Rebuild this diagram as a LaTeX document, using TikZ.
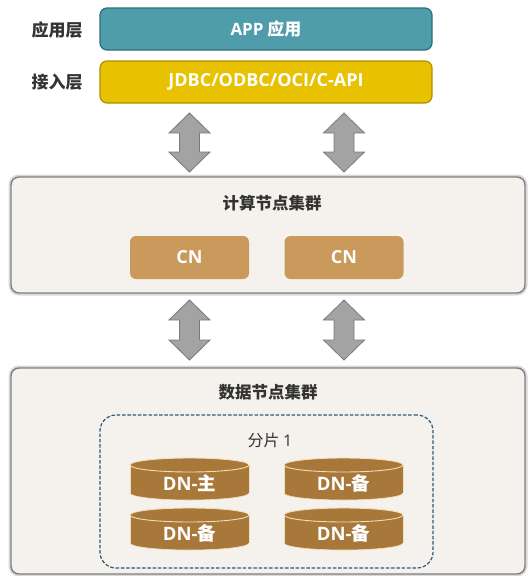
\documentclass[tikz,border=0pt]{standalone}
\usepackage{fontspec}
\setmainfont{Noto Sans CJK SC}
\newfontfamily\lat{Open Sans}
\definecolor{tealbox}{HTML}{4F9CAA}
\definecolor{tealedge}{HTML}{2F6F7C}
\definecolor{goldbox}{HTML}{E8C200}
\definecolor{goldedge}{HTML}{B08F00}
\definecolor{panelfill}{HTML}{F5F2ED}
\definecolor{paneledge}{HTML}{7F7F7F}
\definecolor{cnfill}{HTML}{C99A5B}
\definecolor{dnfill}{HTML}{A8783A}
\definecolor{dnedge}{HTML}{F3DDB5}
\definecolor{arrfill}{HTML}{A3A3A3}
\definecolor{arredge}{HTML}{7A7A7A}
\definecolor{shardblue}{HTML}{2A5A80}
\definecolor{txtdark}{HTML}{333333}
\tikzset{
  layerbox/.style={rounded corners=7pt, minimum width=332pt, minimum height=42pt, inner sep=0pt, line width=1.2pt, text=white, font=\fontsize{17}{19}\selectfont\bfseries},
  sidelabel/.style={text=txtdark, font=\fontsize{17}{19}\selectfont\bfseries, inner sep=0pt},
  panelbox/.style={rounded corners=8pt, fill=panelfill, draw=paneledge, line width=1.4pt, inner sep=0pt, minimum width=514pt},
  panelglow/.style={rounded corners=8pt, draw=black, line width=5pt, opacity=0.15},
  paneltitle/.style={text=txtdark, font=\fontsize{16.5}{18}\selectfont\bfseries, inner sep=0pt},
  cnbox/.style={rounded corners=6pt, fill=cnfill, minimum width=119pt, minimum height=43pt, inner sep=0pt, text=white, font=\lat\fontsize{18}{20}\selectfont\bfseries},
  shardbox/.style={rounded corners=16pt, draw=shardblue, line width=1.2pt, dash pattern=on 3.5pt off 1.8pt, minimum width=333pt, minimum height=153pt, inner sep=0pt},
  arr/.style={fill=arrfill, draw=arredge, line width=0.8pt, line join=miter},
  dntext/.style={text=white, font=\fontsize{18.5}{20}\selectfont\bfseries, inner sep=0pt},
}
\newcommand\udarrow[3]{%
  \filldraw[arr] (#1,#2) -- (#1+20.5,#2+20) -- (#1+10,#2+20) -- (#1+10,#3-20) -- (#1+20.5,#3-20) -- (#1,#3) -- (#1-20.5,#3-20) -- (#1-10,#3-20) -- (#1-10,#2+20) -- (#1-20.5,#2+20) -- cycle;}
\newcommand\dncyl[4]{% name, cx, cy, text
  \fill[dnfill] (#2-59.5,#3-14) rectangle (#2+59.5,#3+14);
  \filldraw[fill=dnfill, draw=dnedge, line width=0.6pt] (#2,#3+14) ellipse [x radius=59.5, y radius=7];
  \fill[dnfill] (#2-59.5,#3-14) rectangle (#2+59.5,#3+14);
  \draw[dnedge, line width=0.8pt] (#2-59.5,#3-14) -- (#2-59.5,#3+14);
  \draw[dnedge, line width=0.8pt] (#2+59.5,#3-14) -- (#2+59.5,#3+14);
  \filldraw[fill=dnfill, draw=dnedge, line width=0.9pt] (#2,#3-14) ellipse [x radius=59.5, y radius=7];
  \node[dntext] (#1) at (#2,#3+4) {{\lat DN-}#4};}
\begin{document}
\begin{tikzpicture}[x=1pt,y=-1pt]
\useasboundingbox[fill=white] (0,0) rectangle (528,576);
% top layers
\node[layerbox, fill=tealbox, draw=tealedge] (app) at (266,29) {{\lat APP} 应用};
\node[layerbox, fill=goldbox, draw=goldedge, font=\lat\fontsize{18}{20}\selectfont\bfseries] (api) at (266,82) {JDBC/ODBC/OCI/C-API};
\node[sidelabel] (l1) at (57,30) {应用层};
\node[sidelabel] (l2) at (57,82) {接入层};
% arrows top
\udarrow{189.5}{113}{172}
\udarrow{344}{113}{172}
% compute panel
\draw[panelglow] (11,177) rectangle (525,293);
\node[panelbox, minimum height=116pt] (cpanel) at (268,235) {};
\node[paneltitle] (ctitle) at (272,203) {计算节点集群};
\node[cnbox] (cn1) at (189.5,257.5) {CN};
\node[cnbox] (cn2) at (344,257.5) {CN};
% arrows bottom
\udarrow{189.5}{300}{360}
\udarrow{344}{300}{360}
% data panel
\draw[panelglow] (11,368) rectangle (525,574);
\node[panelbox, minimum height=206pt] (dpanel) at (268,471) {};
\node[paneltitle] (dtitle) at (268,392) {数据节点集群};
\node[shardbox] (shard) at (266.5,491.5) {};
\node[text=txtdark, font=\fontsize{16}{18}\selectfont, inner sep=0pt] (stitle) at (270,440) {分片 {\lat 1}};
% cylinders
\dncyl{dn1}{189.5}{479}{主}
\dncyl{dn2}{343.5}{479}{备}
\dncyl{dn3}{189.5}{529}{备}
\dncyl{dn4}{343.5}{529}{备}
\end{tikzpicture}
\end{document}
